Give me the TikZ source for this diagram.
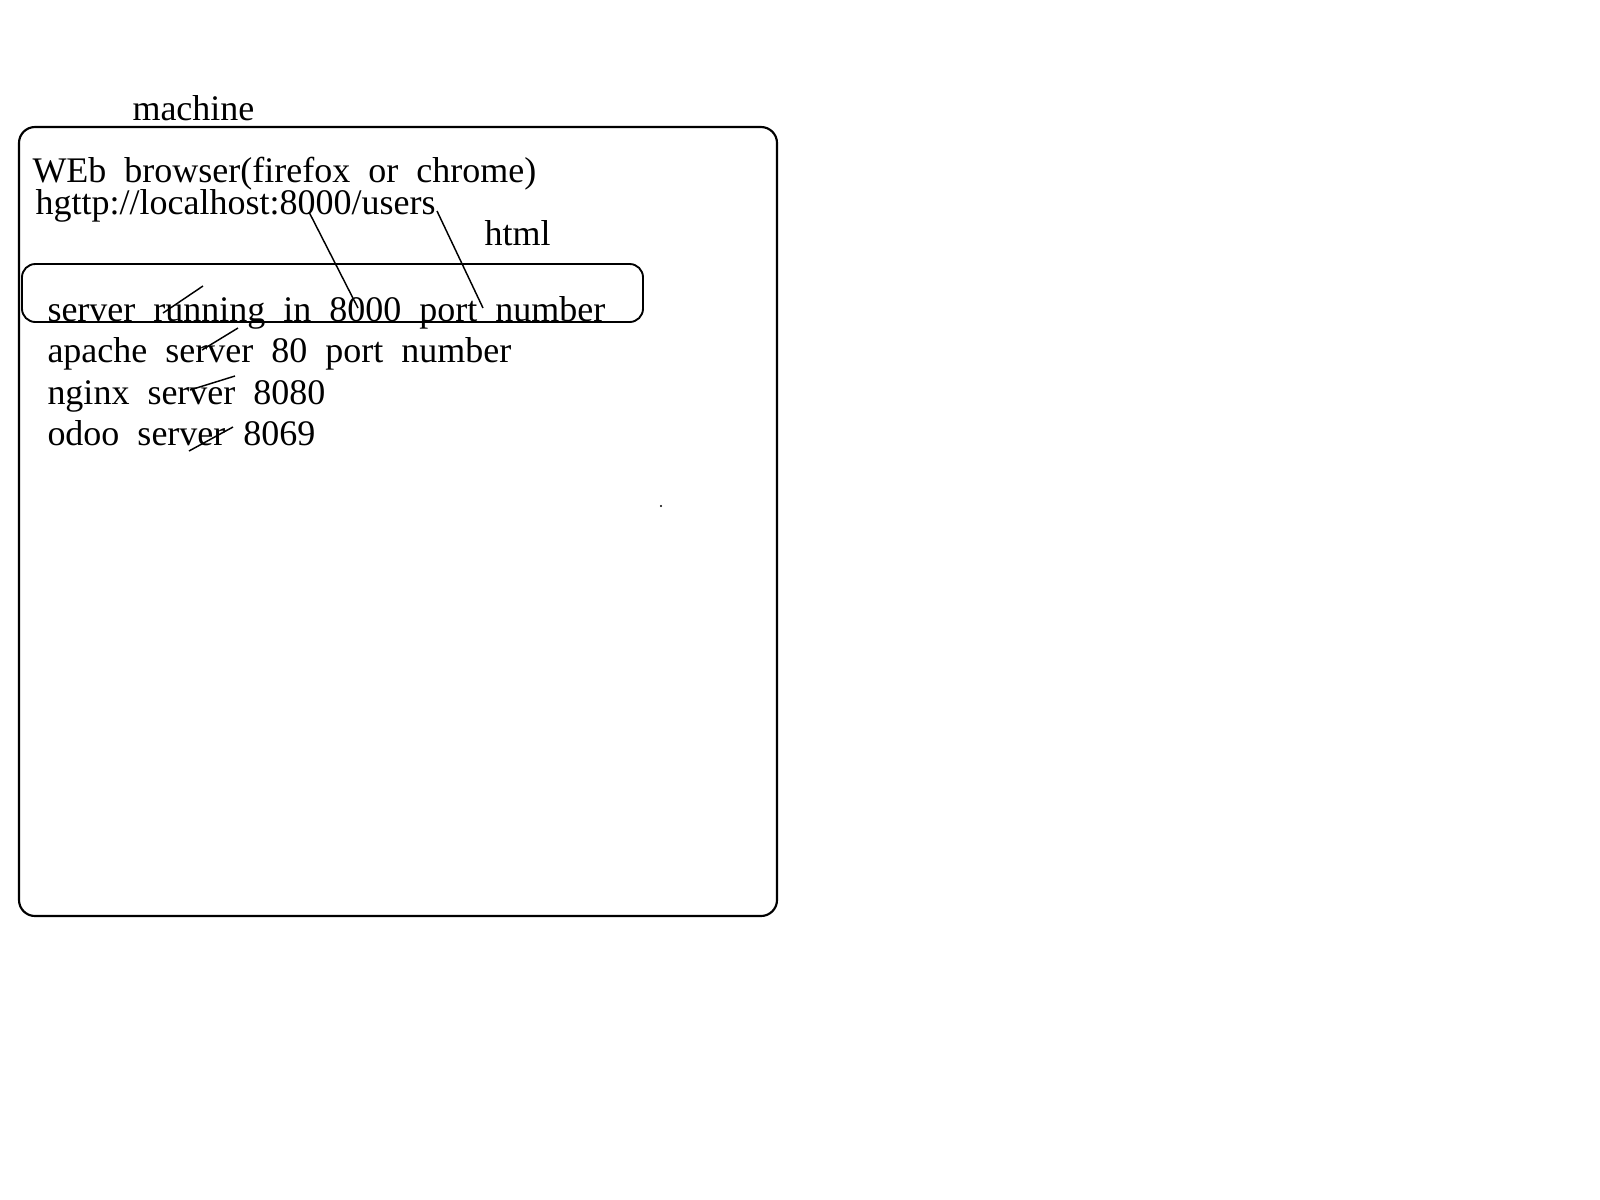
\documentclass[tikz,border=0pt]{standalone}
\usepackage{fontspec}
\setmainfont{Liberation Serif}[WordSpace=2]
\tikzset{every picture/.style={line width=0.75pt}}
\tikzset{txt/.style={anchor=base west,inner sep=0pt,font=\fontsize{27}{32}\selectfont}}
\begin{document}
\begin{tikzpicture}[x=0.75pt,y=0.75pt,yscale=-1,xscale=1]
\path[use as bounding box] (0,0) rectangle (1600,1200);

%Rounded Rect [id:machine box] 
\draw [line width=1.6, rounded corners=12] (19,127) rectangle (777,916) ;
%Rounded Rect [id:server box] 
\draw [line width=1.4, rounded corners=10] (22,264) rectangle (643,322) ;

% Text Node
\node [txt] (machine) at (132,120) {machine};
% Text Node
\node [txt] (browser) at (32,182) {WEb browser(firefox or chrome)};
% Text Node
\node [txt] (url) at (35,214) {hgttp://localhost:8000/users};
% Text Node
\node [txt] (html) at (484,245) {html};
% Text Node
\node [txt] (srv) at (47,321) {server running in 8000 port number};
% Text Node
\node [txt] (apache) at (47,362) {apache server 80 port number};
% Text Node
\node [txt] (nginx) at (47,404) {nginx server 8080};
% Text Node
\node [txt] (odoo) at (47,445) {odoo server 8069};

% line ends
\coordinate (urlport) at (309,212);
\coordinate (srvport) at (358,308);
\coordinate (urlend) at (437,211);
\coordinate (srvnum) at (483,308);

%Straight Lines [id:port] 
\draw [line width=1.1] (urlport) -- (srvport) ;
%Straight Lines [id:reply] 
\draw [line width=1.1] (urlend) -- (srvnum) ;

%Straight Lines [id:ticks] 
\draw [line width=1.1] (203,286) -- (163,313) ;
\draw [line width=1.1] (238,328) -- (202,350) ;
\draw [line width=1.1] (235,376) -- (190,390) ;
\draw [line width=1.1] (233,427) -- (189,451) ;

%Shape: Circle [id:dot] 
\fill (661,506) circle [radius=1.2] ;

\end{tikzpicture}
\end{document}
